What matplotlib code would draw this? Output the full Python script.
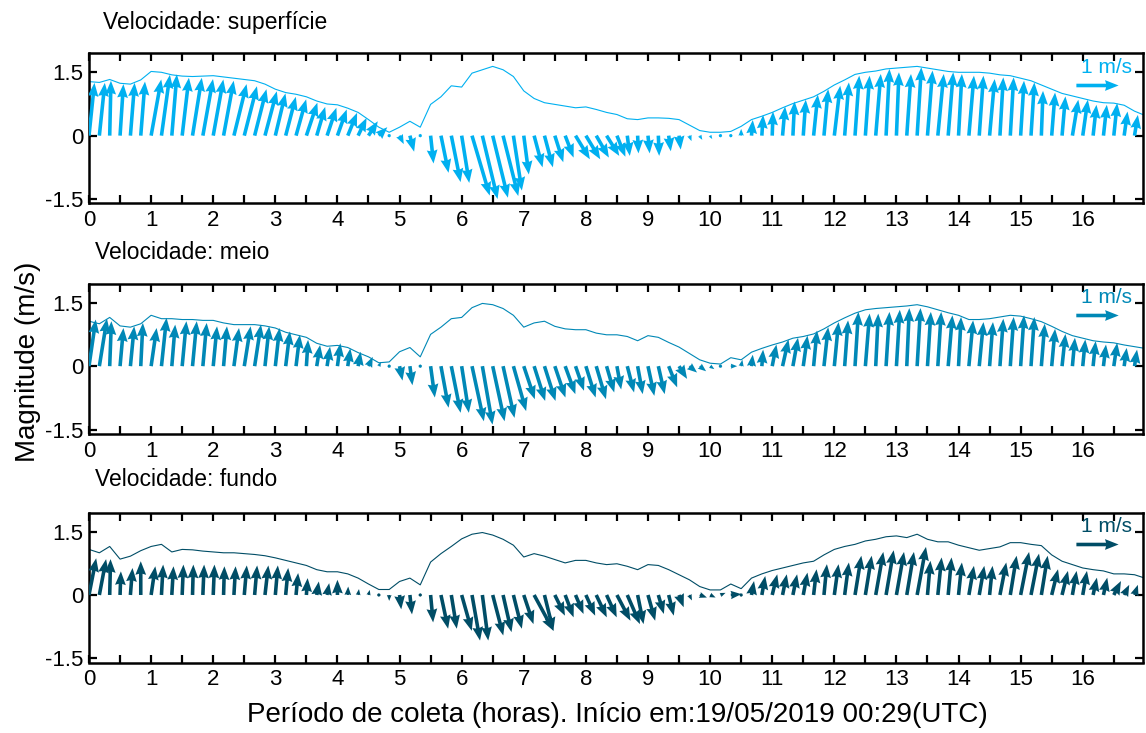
import numpy as np
import matplotlib
matplotlib.use("Agg")
import matplotlib.pyplot as plt
from matplotlib.ticker import MultipleLocator

plt.rcParams['font.family'] = ['Liberation Sans', 'DejaVu Sans']

# ensembles every 10 minutes since 19/05/2019 00:29 UTC
hours = np.arange(102) / 6.0
line_hours = np.arange(103) / 6.0

# surface layer
mag_sup = [1.28, 1.26, 1.33, 1.24, 1.22, 1.32, 1.52, 1.50, 1.44, 1.41, 1.40, 1.41, 1.42, 1.39, 1.36, 1.33,
           1.30, 1.22, 1.10, 1.02, 0.98, 0.92, 0.82, 0.75, 0.73, 0.65, 0.55, 0.38, 0.20, 0.08, 0.20, 0.34,
           0.20, 0.74, 0.92, 1.18, 1.15, 1.48, 1.56, 1.64, 1.56, 1.40, 1.06, 0.88, 0.78, 0.74, 0.70, 0.66,
           0.68, 0.62, 0.55, 0.50, 0.40, 0.38, 0.42, 0.42, 0.41, 0.38, 0.25, 0.12, 0.08, 0.08, 0.10, 0.22,
           0.38, 0.46, 0.55, 0.66, 0.76, 0.84, 0.92, 1.05, 1.20, 1.32, 1.45, 1.50, 1.53, 1.58, 1.60, 1.62,
           1.64, 1.60, 1.56, 1.52, 1.50, 1.50, 1.50, 1.48, 1.44, 1.42, 1.36, 1.30, 1.20, 1.10, 1.00, 0.94,
           0.88, 0.82, 0.78, 0.77, 0.72, 0.58, 0.48]
u_sup = [0.13, 0.13, 0.03, 0.08, 0.10, 0.10, 0.24, 0.20, 0.12, 0.16, 0.22, 0.24, 0.24, 0.24, 0.30, 0.30,
         0.28, 0.28, 0.24, 0.24, 0.24, 0.26, 0.20, 0.22, 0.22, 0.22, 0.20, 0.22, 0.20, 0.06, 0.10, 0.10,
         0.00, 0.07, 0.18, 0.22, 0.18, 0.42, 0.36, 0.36, 0.36, 0.20, 0.12, 0.20, 0.20, 0.20, 0.20, 0.34,
         0.34, 0.30, 0.30, 0.20, 0.06, 0.02, 0.04, 0.02, 0.05, 0.04, 0.05, 0.06, 0.05, 0.02, 0.02, 0.00,
         0.03, 0.03, 0.02, 0.06, 0.04, 0.06, 0.10, 0.10, 0.14, 0.10, 0.10, 0.10, 0.12, 0.08, 0.06, 0.10,
         0.10, 0.12, 0.14, 0.12, 0.08, 0.12, 0.10, 0.12, 0.08, 0.08, 0.08, 0.08, 0.04, 0.08, 0.08, 0.14,
         0.12, 0.08, 0.08, 0.08, 0.08, 0.08]
v_sup = [1.25, 1.25, 1.30, 1.22, 1.25, 1.28, 1.33, 1.44, 1.45, 1.37, 1.37, 1.34, 1.33, 1.30, 1.22, 1.17,
         1.10, 1.05, 1.00, 0.92, 0.86, 0.78, 0.68, 0.66, 0.62, 0.54, 0.42, 0.34, 0.20, 0.05, -0.20, -0.38,
         -0.03, -0.66, -0.88, -1.10, -1.12, -1.42, -1.50, -1.47, -1.43, -1.30, -0.92, -0.75, -0.75, -0.63,
         -0.52, -0.56, -0.56, -0.52, -0.48, -0.50, -0.48, -0.42, -0.42, -0.48, -0.37, -0.33, -0.13, -0.10,
         -0.08, 0.02, 0.06, 0.16, 0.37, 0.49, 0.57, 0.69, 0.81, 0.85, 0.97, 1.10, 1.18, 1.26, 1.42, 1.42,
         1.46, 1.58, 1.50, 1.46, 1.62, 1.54, 1.46, 1.50, 1.46, 1.42, 1.42, 1.34, 1.38, 1.38, 1.30, 1.26,
         1.06, 1.02, 0.93, 0.85, 0.85, 0.73, 0.73, 0.77, 0.57, 0.49]

# middle layer
mag_mei = [1.06, 1.00, 1.15, 0.95, 0.92, 1.00, 1.20, 1.12, 1.12, 1.10, 1.10, 1.08, 1.08, 1.02, 0.98, 0.98,
           0.98, 0.95, 0.90, 0.80, 0.74, 0.68, 0.54, 0.47, 0.49, 0.44, 0.32, 0.22, 0.08, 0.10, 0.34, 0.44,
           0.22, 0.75, 0.92, 1.12, 1.15, 1.38, 1.48, 1.45, 1.36, 1.20, 0.92, 1.02, 1.06, 0.94, 0.88, 0.86,
           0.86, 0.78, 0.74, 0.74, 0.70, 0.60, 0.72, 0.68, 0.56, 0.45, 0.30, 0.15, 0.07, 0.05, 0.20, 0.15,
           0.33, 0.42, 0.50, 0.57, 0.66, 0.70, 0.76, 0.88, 1.02, 1.14, 1.25, 1.33, 1.36, 1.38, 1.40, 1.42,
           1.45, 1.40, 1.33, 1.26, 1.20, 1.10, 1.10, 1.12, 1.16, 1.20, 1.18, 1.12, 1.05, 0.94, 0.82, 0.72,
           0.66, 0.60, 0.57, 0.55, 0.50, 0.46, 0.42]
u_mei = [0.16, 0.18, 0.04, 0.08, 0.09, 0.05, 0.13, 0.12, 0.08, 0.10, 0.10, 0.09, 0.09, 0.08, 0.12, 0.15,
         0.15, 0.10, 0.10, 0.10, 0.09, 0.04, 0.08, 0.07, 0.07, 0.06, 0.06, 0.10, 0.05, 0.04, 0.07, 0.06,
         0.00, 0.10, 0.18, 0.22, 0.17, 0.28, 0.24, 0.28, 0.27, 0.30, 0.26, 0.26, 0.26, 0.25, 0.24, 0.20,
         0.23, 0.23, 0.18, 0.10, 0.16, 0.12, 0.15, 0.15, 0.20, 0.19, 0.18, 0.15, 0.10, 0.02, 0.15, 0.03,
         0.03, 0.03, 0.10, 0.14, 0.12, 0.10, 0.08, 0.10, 0.10, 0.08, 0.08, 0.10, 0.06, 0.08, 0.08, 0.06,
         0.08, 0.08, 0.08, 0.10, 0.06, 0.10, 0.10, 0.08, 0.08, 0.08, 0.08, 0.08, 0.08, 0.08, 0.08, 0.06,
         0.06, 0.06, 0.06, 0.08, 0.06, 0.06]
v_mei = [1.10, 1.12, 1.06, 0.90, 0.94, 1.02, 0.90, 1.14, 0.98, 1.06, 1.06, 1.02, 0.94, 0.94, 0.90, 0.94,
         0.98, 0.94, 0.90, 0.82, 0.74, 0.62, 0.50, 0.46, 0.54, 0.42, 0.34, 0.22, 0.10, -0.05, -0.34, -0.45,
         -0.02, -0.74, -0.98, -1.10, -1.10, -1.30, -1.38, -1.30, -1.22, -1.06, -0.78, -0.82, -0.82, -0.74,
         -0.66, -0.58, -0.74, -0.78, -0.62, -0.55, -0.62, -0.66, -0.70, -0.66, -0.50, -0.30, -0.15, -0.12,
         -0.07, 0.00, 0.00, 0.15, 0.27, 0.39, 0.51, 0.63, 0.67, 0.72, 0.84, 0.92, 1.04, 1.08, 1.28, 1.24,
         1.24, 1.28, 1.33, 1.37, 1.37, 1.28, 1.28, 1.20, 1.16, 1.08, 1.04, 1.04, 1.12, 1.16, 1.20, 1.16,
         1.00, 0.88, 0.76, 0.67, 0.63, 0.59, 0.51, 0.55, 0.43, 0.39]

# bottom layer
mag_fun = [1.08, 1.00, 1.15, 0.85, 0.92, 1.05, 1.15, 1.20, 1.02, 1.08, 1.07, 1.04, 1.02, 1.00, 1.00, 0.98,
           0.96, 0.93, 0.88, 0.82, 0.76, 0.70, 0.60, 0.55, 0.55, 0.50, 0.40, 0.26, 0.13, 0.13, 0.32, 0.40,
           0.24, 0.78, 0.98, 1.15, 1.33, 1.44, 1.48, 1.42, 1.32, 1.18, 0.90, 0.98, 0.92, 0.84, 0.76, 0.82,
           0.82, 0.76, 0.72, 0.74, 0.68, 0.60, 0.72, 0.70, 0.60, 0.48, 0.36, 0.20, 0.12, 0.12, 0.26, 0.15,
           0.40, 0.50, 0.58, 0.64, 0.70, 0.76, 0.80, 0.95, 1.08, 1.15, 1.20, 1.28, 1.32, 1.38, 1.40, 1.36,
           1.44, 1.32, 1.26, 1.26, 1.18, 1.12, 1.06, 1.10, 1.14, 1.24, 1.24, 1.20, 1.17, 0.95, 0.80, 0.72,
           0.64, 0.60, 0.57, 0.50, 0.50, 0.48, 0.40]
u_fun = [0.17, 0.16, 0.02, 0.02, 0.05, 0.00, 0.10, 0.04, 0.04, 0.03, 0.02, 0.03, 0.03, 0.02, 0.04, 0.06,
         0.06, 0.08, 0.06, 0.06, 0.05, 0.03, 0.05, 0.05, 0.00, 0.01, 0.02, 0.03, 0.00, 0.00, 0.04, 0.05,
         0.00, 0.06, 0.17, 0.13, 0.24, 0.19, 0.14, 0.25, 0.20, 0.20, 0.23, 0.46, 0.21, 0.24, 0.20, 0.19,
         0.22, 0.25, 0.24, 0.32, 0.30, 0.14, 0.17, 0.13, 0.12, 0.11, 0.06, 0.17, 0.13, 0.12, 0.25, 0.05,
         0.06, 0.08, 0.12, 0.10, 0.10, 0.10, 0.07, 0.07, 0.10, 0.10, 0.15, 0.15, 0.18, 0.18, 0.18, 0.17,
         0.21, 0.07, 0.09, 0.08, 0.08, 0.12, 0.12, 0.07, 0.15, 0.15, 0.20, 0.19, 0.15, 0.15, 0.14, 0.10,
         0.10, 0.09, 0.09, 0.17, 0.12, 0.08]
v_fun = [0.87, 0.85, 0.85, 0.56, 0.64, 0.80, 0.68, 0.72, 0.68, 0.72, 0.72, 0.72, 0.72, 0.68, 0.68, 0.70,
         0.70, 0.70, 0.70, 0.64, 0.52, 0.40, 0.32, 0.28, 0.36, 0.20, 0.14, 0.12, 0.02, -0.14, -0.34, -0.46,
         -0.02, -0.65, -0.80, -0.80, -0.85, -1.08, -1.08, -0.96, -0.88, -0.80, -0.69, -0.85, -0.85, -0.49,
         -0.53, -0.45, -0.49, -0.53, -0.53, -0.61, -0.69, -0.69, -0.61, -0.45, -0.49, -0.29, -0.13, -0.06,
         -0.06, 0.05, 0.02, 0.06, 0.33, 0.45, 0.49, 0.49, 0.49, 0.53, 0.61, 0.73, 0.73, 0.77, 0.93, 0.93,
         1.02, 1.06, 1.02, 1.02, 1.14, 0.81, 0.89, 0.89, 0.77, 0.69, 0.69, 0.69, 0.77, 0.93, 1.02, 0.98,
         0.93, 0.61, 0.57, 0.57, 0.57, 0.41, 0.41, 0.33, 0.24, 0.24]

titles = ["Velocidade: superfície", "Velocidade: meio", "Velocidade: fundo"]
colors = ["#00B0F0", "#0088B6", "#004D66"]
panels = [(mag_sup, u_sup, v_sup), (mag_mei, u_mei, v_mei), (mag_fun, u_fun, v_fun)]

W, H = 1146, 733
fig = plt.figure(figsize=(W / 100, H / 100), dpi=100)

# axes boxes in pixels: top, bottom edges
boxes = [(53.3, 203.2), (283.5, 434.0), (512.7, 662.5)]
title_pos = [(103, 22), (95, 253), (95, 480)]
left, right = 89, 1143

for i in range(3):
    mag, u, v = panels[i]
    c = colors[i]
    top, bot = boxes[i]
    ax = fig.add_axes([left / W, 1 - bot / H, (right - left) / W, (bot - top) / H])

    ax.plot(line_hours, mag, color=c, lw=0.8, zorder=2)
    q = ax.quiver(hours, np.zeros(len(hours)), u, v, color=c,
                  angles='uv', scale_units='y', scale=1,
                  width=0.0034, headwidth=3.0, headlength=3.8, headaxislength=3.5,
                  zorder=3)
    # reference arrow, its label set a little to the right
    ax.quiverkey(q, 0.956, 0.79, 1, '', labelpos='N', coordinates='axes', color=c)
    ax.text(0.965, 0.905, '1 m/s', transform=ax.transAxes, color=c, fontsize=15,
            ha='center', va='center')

    ax.set_xlim(0, 16.97)
    ax.set_ylim(-1.6, 1.95)
    ax.set_xticks(range(17))
    ax.xaxis.set_minor_locator(MultipleLocator(0.5))
    ax.set_yticks([-1.5, 0, 1.5])
    ax.set_yticklabels(['-1.5', '0', '1.5'])
    ax.tick_params(which='both', direction='in', top=True, right=True,
                   length=6, width=1.6, labelsize=16, colors='black')
    ax.tick_params(axis='x', pad=5)
    ax.tick_params(axis='y', pad=4)
    for s in ax.spines.values():
        s.set_linewidth(1.8)

    fig.text(title_pos[i][0] / W, 1 - title_pos[i][1] / H, titles[i],
             fontsize=16.5, ha='left', va='center')

fig.text(28 / W, 1 - 362 / H, 'Magnitude (m/s)', rotation=90, fontsize=20,
         ha='center', va='center')
fig.text(617 / W, 1 - 715 / H, 'Período de coleta (horas). Início em:19/05/2019 00:29(UTC)',
         fontsize=20, ha='center', va='center')

fig.savefig('out.png', dpi=100)
